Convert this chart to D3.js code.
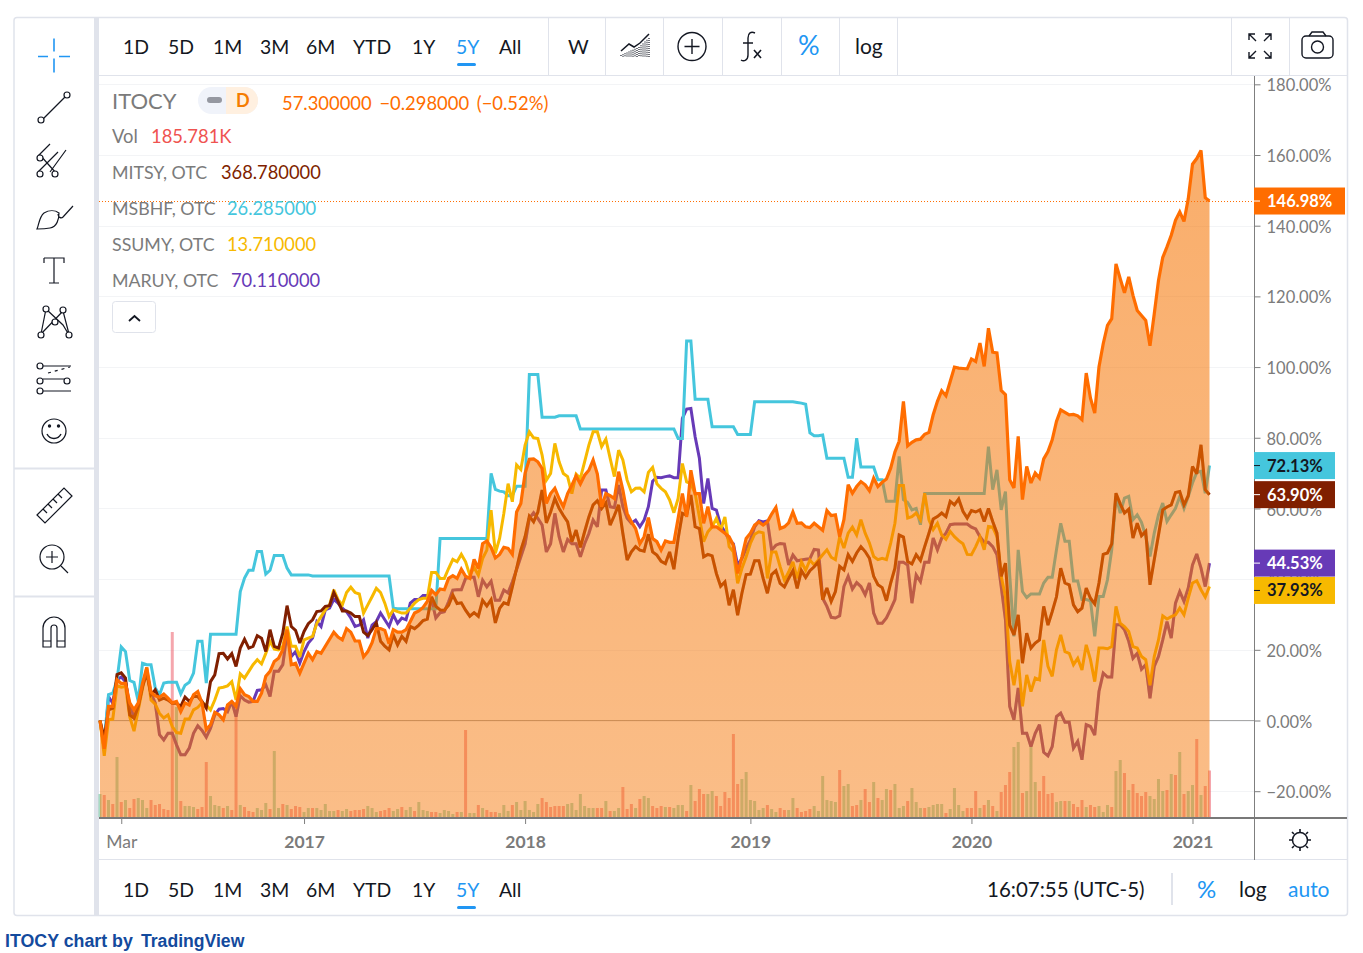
<html>

<head>
  <title>ITOCY chart by TradingView</title>
</head>
<style>
  body { margin: 0; background: #fff; }
  text { font-family: Lato, "Noto Sans", sans-serif; }
  text.caption { font-family: "Liberation Sans", Arial, sans-serif; font-weight: 700; }
</style>

<body>
  <div id="chart"></div>
</body>
<script src="https://d3js.org/d3.v7.min.js"></script>
<script>

  // weekly % change from the first week, 262 weeks
  const itocy = [0,-8,4,4,11.5,10.5,10.5,5,3,5,10.5,15,8,7,6.6,7.5,6.3,5,5.4,2.5,5,4.4,7.3,8.2,5,-2.6,-1.2,2.3,1.6,0.2,4.4,5.4,4,9,7.3,6.8,5.4,5.4,7.7,12.5,13.9,16.7,17.6,20,25.7,15.8,16.2,13.4,16.2,19,17.2,19.5,19,21,23,25,23.6,22.8,26,25,22.5,22.5,18,19.5,22,26,26,25.5,21.7,25.7,25,25,25.7,28,30.4,31,32,33.7,36.8,35.6,37.2,37,40.2,41,40.2,42.8,40.8,40.2,45.6,43,50,50.8,49,46,47,49,48.7,47,59,61.4,70,73.9,74,73.2,71.3,61.4,64.2,65.7,62.8,60.5,64.2,66.6,69.2,66.9,69.4,70.8,73.7,69.7,60.5,64.2,63.6,62.8,70.4,65.2,58.6,56.2,54.3,50,52,57.4,51.5,50.6,48.2,50.8,50.4,50.4,57.2,64.2,57.6,70.8,64.2,64.2,55.8,60.5,54.8,54.8,53.9,53,52,49.6,41.6,46.3,51.5,53,55.3,56.2,55.3,56.2,58.4,60.3,54.3,54.8,55.9,59,55.8,55.9,54.8,54.6,55.8,54.8,53.8,59.4,58,58.2,52,56.8,66.7,64.3,66.2,67.6,66.7,65,68.6,66.2,67.4,68.3,71.4,76,79,90.3,77.7,78.7,79.4,79.6,81,81.5,86.5,90.3,93.3,91.9,95.9,100,99.7,99.6,99.5,102.3,101.6,106.8,100.2,111,104.2,104,93.4,92.2,68.1,65.8,80.4,62.5,71.9,67.2,70,68.6,74,76.1,79.4,84.6,87.9,87.2,86.5,86.6,86.2,85.1,98.3,91.2,87,100,106.6,111.8,113.7,129.2,125,121,125.5,120.3,116,114.6,113.2,106,115,124.5,131,134,137.3,141.5,143.9,141.2,147.6,157.4,159,161.3,147.9,146.98]

  const mitsy = [0,-5,3,3.5,13,13.5,12,1.6,0.7,4,9.6,13.4,7.3,8.7,5.8,6.3,5.8,4.9,4.9,4,6.6,5.4,6.8,6.8,5.4,3.5,11,12.9,18.9,19,17.4,18.9,15.3,20.5,23,20.5,21,24,23.3,19.5,25.7,21,20.5,24.7,32.5,26.6,25.5,21.9,25.2,27.4,28.5,30.8,31,32.3,32.5,36.2,33.7,31,31,30.4,29.4,29.4,25,24,25.7,27.7,22.4,21,20,24.2,21.4,23.8,22.4,26.6,26,27,28.3,28.7,35,32.3,31.3,31.2,32.6,35.5,33.1,33.3,31.2,29.5,30.5,29.5,34,32.4,34.2,27.6,31.7,33.3,32.9,37.8,43,48.2,52,57.8,56.2,59,65.2,55.9,59,62.8,60,58,56.2,50.6,53.9,49,53.4,57.6,61,62.2,60,61.6,55.3,58,61,52.9,45.4,47.7,49.2,48.2,47.9,52.7,47.7,46.8,45,44.4,47.7,42.8,51.5,58.6,58.1,63.8,54.8,54.3,46.3,47,46.6,41.6,38,39.2,32.6,37,29.8,36,41.3,41.4,45.2,45.2,40.2,36,41.3,42.4,38.8,37.8,40.2,42.4,37.4,42.4,40.5,42.4,43.5,44.9,34.2,37.5,33.7,36.5,43.6,42.6,46.9,45,47.4,49.2,47.8,45.9,40.8,38.4,37.6,33.9,38.9,43.1,52.5,51.9,45,44.3,46.9,45.3,49.2,53,57,57.7,58.7,57.7,62,61,62.7,59.2,57.3,59.4,59,59.6,56.3,60,56.3,53,40.8,44.5,27,24.2,29.9,16.2,24.7,20.5,21.9,22.8,32.3,27,30.8,35,43.1,38.9,38.4,32.7,30.8,31.8,37.5,34.6,33,38.9,47,47.4,50,64.3,61.3,58.7,59.8,51.6,55.8,52.3,53.5,38.4,45.5,52.5,59.6,60.4,61,64.5,64.8,61,63.6,71.9,69.8,78,65.3,63.9]

  const msbhf = [0,-6,7.3,7.7,11.5,20.8,19.5,11.3,10.8,5.4,16.2,15.8,15.8,9.2,7.3,10.6,10.8,10.8,10.8,7.5,10,10.8,13.4,22.4,22.4,10.6,24.4,24.4,24.4,24.4,24.4,24.4,24.4,36.5,40.3,42.5,42.5,47.8,47.8,41.4,42.5,46.7,46.7,46.7,43.1,41.2,41.2,41.2,41.2,41.2,40.9,40.9,40.9,40.9,40.9,40.9,40.9,40.9,40.9,40.9,40.9,40.9,40.9,40.9,40.9,40.9,40.9,40.9,40.9,31.8,31.6,31.6,31.6,31.6,31.6,31.6,31.6,31.6,31.6,31.6,51.5,51.5,51.5,51.5,51.5,51.5,51.5,51.5,51.5,51.5,51.5,51.5,69.9,65.4,64.9,64.7,63.6,63.6,66.3,66.3,66.3,97.9,97.9,97.9,85.8,85.8,85.8,85.8,86.2,86.2,86.2,86.2,86.2,82.5,82.5,82.5,82.5,82.5,82.5,82.5,82.5,82.5,82.5,82.5,82.5,82.5,82.5,82.5,82.5,82.5,82.5,82.5,82.5,82.5,82.5,82.5,79.8,79.8,107.4,107.4,90.9,90.9,90.9,90.9,83.1,83.1,83.1,83.1,83.1,83.1,80.9,80.9,80.9,80.9,90.2,90.2,90.2,90.2,90.2,90.2,90.2,90.2,90.2,90.2,90,89.8,89.5,81.4,80.6,80.6,80.8,74.2,74.2,74.2,74.2,74.2,68.8,68.8,79.9,71.7,71.7,71.7,71.7,68.1,68.1,62,62,62,74.7,62.5,61.7,59.6,60,55.4,64.2,64.2,64.2,64.2,64.2,64.2,64.2,64.2,64.2,64.2,64.2,64.2,64.2,64.2,64.2,77.5,65.3,70.9,59.6,64.8,41.2,23.8,48.3,36.5,34.8,35.8,35.8,35.8,38.9,40.5,40.5,48.3,55.8,50.7,50.7,39.5,39.5,34.2,34.2,33.9,23.8,35.1,35.1,39.8,48.3,63.4,58.7,62.9,63.4,56.8,58.2,56.1,52.1,46.4,53,58.2,61.5,56.3,58.2,60,63.4,60,63.4,67.2,70.2,70.5,64.3,72.13]

  const ssumy = [0,-10,0.2,0.4,9.8,9.4,9.6,1,-3,3,9,15,5.8,4.6,2,0.7,1.6,-1.7,-3.4,-3.6,0.4,0.4,3,3.7,5,4.4,3,5.8,9.2,9.4,9.8,11,5.8,13.2,12,13.9,15.8,17.2,16,19,22.4,20.2,20,21,26.6,21,21,18,22.8,23.3,23.8,27.5,29.4,31.3,32.7,37,34.2,32.7,36.2,37.7,36.2,35.8,30.4,32.7,35,37.4,36.2,33.2,29.4,31.3,30.8,30.4,30.4,31.8,33.2,34.2,34.6,34.6,41.9,41.9,40.2,40.2,43,45.6,44.9,47,44.9,41.1,43.3,41.1,45.8,48.2,59.5,47.3,51.5,58.6,67,61.9,72.3,71,77.9,81.7,80,79.8,75.1,68,69.9,78.4,73.2,69.9,69,64.2,69.7,68.5,73.2,77.9,81.7,81.7,77.5,79.6,74.2,69,76.5,73.7,68,64.7,65.7,65.8,64.7,70.2,71.6,67,65.7,64.7,62.4,58.8,62.8,72.7,67.5,67,64.2,57.6,50.6,53.4,54.8,57.2,53.9,57.6,49.2,47.7,38.8,43,46.3,50.1,52.7,53.4,53.1,40.2,47.7,47.7,43.5,39.7,42,44.9,40.2,44.9,42.5,45.4,44,45.4,46.9,48.3,46.2,45.5,52,48.8,53,54.7,52.5,56.8,53,50.2,46.4,45.5,45.9,45.5,50.2,55.8,66.5,66.5,57.3,57.7,58.7,56.8,64.3,56.8,54,55.8,52.5,51.3,53.5,52,50.9,50,47,46.9,49.2,51.9,48.3,54.9,54.7,52,40.8,35,16.7,10,17.2,4,12.9,8.2,12,11.5,22.8,15.3,12.5,20,24.2,19.5,19,15.8,17.6,14.3,21.4,17.2,11,20.5,20.5,20.3,20.9,32.3,27.5,26.6,25.2,20.9,20.5,18.1,17.2,10,18.1,22.8,29.6,28.7,29.4,29.9,31.8,29.9,34.6,38.9,39.5,37,34.9,37.93]

  const maruy = [0,-8,6.8,4.9,11.5,12.3,11,4,1.1,3.5,10.6,13.9,7.7,4.9,-4,-5.5,-3.6,-3.6,-6.9,-9.7,-9.7,-7.8,-3.6,-1.5,-2.8,-4.7,-2.2,1.6,3.2,3.4,2.5,5.4,1.1,7,5.8,5.2,5.4,8.5,8.7,10.1,6.8,13.9,13.9,15.8,24.7,18.1,19.5,16.2,19.5,21.9,23.3,28,26.6,31.3,31.8,34.3,33.2,31.8,30.8,29,26.6,27,28.5,23.3,27,28,30.4,28.5,26.6,29.9,27.5,29,28.5,33.2,34.2,34.2,35.4,35.4,34.2,29,30.5,30.8,33.6,36.9,37,37,40.2,40.5,40.5,35,39.7,37.8,39.4,34,34,36.9,36.1,39.2,42.7,46.3,50,57.2,58.8,57.2,55.3,47.7,50,58.6,52,47.7,51.2,50,50,46.3,50,52.9,56.7,54.8,65.2,65.2,60.5,60.2,66.6,60.5,57.2,55.8,56.7,54.8,56.7,60.5,67.7,68.8,68.7,69,69.2,68.7,68.7,85.5,88.1,88.3,80.3,74.2,61.4,68.5,60,59.5,55.3,53.4,51,50,44,45.8,48.7,51,54.8,56.5,56.2,56.5,48.2,49.6,50.1,49.9,44,46.8,45.2,45.4,45.6,45.8,48.4,48.2,34.6,32.3,29.2,29,29.6,37.9,40.8,37.2,39,37.9,35.6,38.9,30.4,27.5,27.5,29,31.5,34.2,44.8,44.8,44,33.2,41.2,39.3,44.8,44.8,51.6,48.3,51.6,53,55.4,55.6,55.6,55.6,55.6,54.7,54.2,52,50.4,50.4,49.2,46.9,37.9,28.5,4,0.2,9.2,-3.6,-3.6,-7.4,-3.6,-1.2,-9,-10,-7.4,1.1,2.1,-0.5,-0.5,-7.8,-5.9,-11.1,-1.2,-1.7,-4.1,8.2,13.4,12.3,12.3,27.1,27.1,25.7,22.4,17.6,19,14.5,15.8,6.3,15.3,18.1,22.8,28,23.3,33.2,36.5,33.7,37.5,44,47.1,43.1,37.9,44.53]

  // volume in thousands, and whether the week closed up (1) or down (0)
  const volume = [92,88,68,52,240,60,68,36,72,76,68,36,68,48,52,32,28,740,440,64,44,44,40,32,40,220,84,48,44,36,44,28,460,48,40,24,20,36,28,56,32,264,36,52,48,32,44,40,20,36,36,36,28,52,24,24,28,24,32,24,28,28,32,44,36,20,24,28,36,24,32,40,28,40,24,60,28,24,20,20,16,28,24,12,20,20,348,16,16,48,36,28,20,20,16,48,24,48,60,28,64,28,20,52,76,60,40,44,44,44,52,56,28,92,44,36,36,36,36,64,24,24,36,120,32,52,36,72,84,76,44,36,44,40,40,36,48,48,24,128,64,112,92,92,104,84,44,100,76,332,132,152,180,68,64,28,36,48,32,20,36,28,28,76,36,20,24,32,44,24,164,68,64,60,188,124,132,44,48,68,112,60,140,76,68,112,108,132,36,44,64,116,60,36,36,40,48,52,52,16,32,116,48,24,36,36,104,36,48,68,44,24,100,128,180,280,300,96,104,288,140,104,164,92,96,60,64,64,64,52,40,68,40,48,40,44,20,48,40,184,228,176,108,132,96,84,100,84,72,152,104,108,172,168,260,92,104,128,312,88,124,186]
  const volumeUp = [1,0,1,0,1,0,1,0,0,1,1,1,0,0,0,0,0,0,1,0,1,1,1,0,0,0,1,1,1,0,1,0,0,1,0,0,0,1,1,1,0,1,1,0,1,0,0,0,1,1,0,1,1,1,1,1,0,1,1,0,0,0,0,1,1,1,0,0,0,1,1,0,1,1,0,1,1,1,0,0,1,1,1,1,0,1,0,1,1,0,1,0,0,0,1,1,1,0,1,1,1,1,1,1,0,0,0,0,0,0,1,1,1,1,1,1,1,0,0,1,0,1,1,0,0,0,1,0,1,1,0,0,0,1,0,1,1,1,0,1,0,0,0,1,1,0,0,0,0,0,0,1,1,1,1,1,1,0,1,1,0,0,1,1,0,0,0,0,1,1,1,1,1,1,0,1,1,0,0,1,0,0,1,0,1,1,0,1,1,1,0,1,1,1,0,1,1,1,1,0,1,1,1,1,0,0,0,1,0,1,0,1,0,0,0,1,1,0,1,1,1,0,0,0,0,1,1,0,1,0,0,0,1,0,0,1,1,1,0,1,1,0,1,0,0,0,0,1,1,1,1,0,1,0,1,0,1,1,0,1,0,0]

  const priceTicks = [-20, 0, 20, 40, 60, 80, 100, 120, 140, 160, 180]
  const timeTicks = [[5, "Mar"], [48, "2017"], [100, "2018"], [153, "2019"], [205, "2020"], [257, "2021"]]
  const ranges = [["1D", 123], ["5D", 168], ["1M", 213], ["3M", 260], ["6M", 306], ["YTD", 353], ["1Y", 412], ["5Y", 456], ["All", 499]]

  const width = 1363
  const height = 953
  const border = "#e0e3eb"
  const ink = "#131722"
  const blue = "#2196f3"
  const gray = "#7b7b7b"
  const orange = "#ff6d00"

  let x = d3.scaleLinear().domain([0, 261]).range([100, 1209.5])
  let y = d3.scaleLinear().domain([0, 160]).range([720.5, 155])
  let volH = d3.scaleLinear().domain([0, 744]).range([0, 186])
  const bottom = 817

  let svg = d3.select("#chart")
    .append("svg")
    .attr("width", width)
    .attr("height", height)

  let line = d3.line().x((d, i) => x(i)).y(d => y(d))
  let area = d3.area().x((d, i) => x(i)).y0(bottom).y1(d => y(d))

  let defs = svg.append("defs")
  let grad = defs.append("linearGradient")
    .attr("id", "fill")
    .attr("gradientUnits", "userSpaceOnUse")
    .attr("x1", 0).attr("x2", 0).attr("y1", 150).attr("y2", bottom)
  grad.append("stop").attr("offset", 0).attr("stop-color", "#f57300").attr("stop-opacity", 0.58)
  grad.append("stop").attr("offset", 1).attr("stop-color", "#f57300").attr("stop-opacity", 0.47)
  defs.append("clipPath").attr("id", "underFill").append("path").datum(itocy).attr("d", area)

  // frame
  svg.append("rect").attr("x", 14).attr("y", 17.5).attr("width", 1333.5).attr("height", 898)
    .attr("rx", 3).attr("fill", "#fff").attr("stroke", border).attr("stroke-width", 1.5)
  svg.append("rect").attr("x", 94).attr("y", 18).attr("width", 5).attr("height", 897).attr("fill", border)
  hline(99, 1347, 75.5, border)
  hline(99, 1347, 859.5, border)
  hline(14, 94, 468.5, border, 2)
  hline(14, 94, 596.5, border, 2)
  ;[548, 605, 663, 722, 781, 839, 897, 1231, 1289].forEach(d => vline(d + 0.5, 18, 75, border))

  function hline(x1, x2, yy, color, w) {
    return svg.append("line").attr("x1", x1).attr("x2", x2).attr("y1", yy).attr("y2", yy)
      .attr("stroke", color).attr("stroke-width", w || 1)
  }
  function vline(xx, y1, y2, color, w) {
    return svg.append("line").attr("x1", xx).attr("x2", xx).attr("y1", y1).attr("y2", y2)
      .attr("stroke", color).attr("stroke-width", w || 1)
  }
  function label(txt, xx, yy, size, color, extra) {
    let t = svg.append("text").attr("x", xx).attr("y", yy).attr("font-size", size).attr("fill", color).text(txt)
    if (extra) Object.keys(extra).forEach(k => t.attr(k, extra[k]))
    return t
  }

  // grid
  priceTicks.forEach(d => {
    hline(99, 1254, Math.round(y(d)) + 0.5, "#f3f4f6")
  })
  hline(99, 1254, y(0), "#a8a8a8")

  // volume
  svg.append("g").selectAll("rect")
    .data(volume)
    .enter().append("rect")
    .attr("x", (d, i) => x(i) - 1.5)
    .attr("width", 3)
    .attr("y", d => bottom - volH(d))
    .attr("height", d => volH(d))
    .attr("fill", (d, i) => volumeUp[i] ? "rgba(83,185,135,.5)" : "rgba(235,77,92,.5)")

  function drawLine(values, color, w) {
    return svg.append("path").datum(values)
      .attr("d", line)
      .attr("fill", "none")
      .attr("stroke", color)
      .attr("stroke-width", w)
      .attr("stroke-linejoin", "miter")
      .attr("stroke-miterlimit", 3)
  }

  drawLine(maruy, "#673ab7", 3)
  drawLine(msbhf, "#45c6dd", 3)
  drawLine(ssumy, "#f7b900", 3)
  drawLine(mitsy, "#801f00", 3)

  svg.append("path").datum(itocy)
    .attr("d", area)
    .attr("fill", "url(#fill)")

  // the dark lines read lighter through the fill
  ;[maruy, mitsy].forEach(s => {
    drawLine(s, "#f57300", 3).attr("stroke-opacity", 0.22).attr("clip-path", "url(#underFill)")
  })
  drawLine(itocy, orange, 3.2)

  // last price dotted line
  hline(99, 1254, y(146.98) + 0.5, orange).attr("stroke-dasharray", "1 2")

  // axes
  vline(1254.5, 76, 860, "#7f7f7f")
  hline(99, 1347, 818, "#787878", 2)

  let yAxis = d3.axisRight(y).tickValues(priceTicks).tickSize(6).tickPadding(6)
    .tickFormat(d => (d < 0 ? "\u2212" : "") + Math.abs(d).toFixed(2) + "%")
  let gy = svg.append("g").attr("transform", "translate(1254.5,0)").call(yAxis)
  gy.select(".domain").remove()
  gy.selectAll("line").attr("stroke", "#7f7f7f")
  gy.selectAll("text").attr("font-size", 16.5).attr("fill", gray).attr("dy", "0.4em")

  let xAxis = d3.axisBottom(x).tickValues(timeTicks.map(d => d[0])).tickSize(6).tickPadding(12)
    .tickFormat(d => timeTicks.find(t => t[0] === d)[1])
  let gx = svg.append("g").attr("transform", "translate(0,818)").call(xAxis)
  gx.select(".domain").remove()
  gx.selectAll("line").attr("stroke", "#7f7f7f")
  gx.selectAll("text").attr("font-size", 17.5).attr("fill", gray)
    .attr("font-weight", d => d === 5 ? 400 : 700)

  // last value tags, the last one pushed down so it clears the tag above
  const tags = [
    [146.98, "146.98%", orange, "#fff", 91, 0],
    [72.13, "72.13%", "#45c6dd", ink, 81, 0],
    [63.9, "63.90%", "#801f00", "#fff", 81, 0],
    [44.53, "44.53%", "#673ab7", "#fff", 81, 0],
    [37.93, "37.93%", "#f7b900", ink, 81, 4]
  ]
  tags.forEach(t => {
    let yy = y(t[0]) + t[5]
    svg.append("rect").attr("x", 1254).attr("y", yy - 13.5).attr("width", t[4]).attr("height", 27).attr("fill", t[2])
    hline(1254, 1260, yy, t[3])
    label(t[1], 1267, yy + 6, 16.5, t[3], { "font-weight": 700 })
  })

  // legend
  label("ITOCY", 112, 109, 22, gray)
  svg.append("rect").attr("x", 198).attr("y", 87).attr("width", 60).attr("height", 27).attr("rx", 13.5).attr("fill", "#f0f3fa")
  svg.append("path").attr("d", "M226 87h18.5a13.5 13.5 0 0 1 0 27H226z").attr("fill", "#fff0e0")
  svg.append("rect").attr("x", 207).attr("y", 97).attr("width", 15).attr("height", 6).attr("rx", 3).attr("fill", "#9598a1")
  label("D", 236, 107, 18, "#f57c00", { "font-weight": 700 })
  label("57.300000 \u22120.298000 (\u22120.52%)", 282, 110, 18.4, orange, { "word-spacing": 3 })
  label("Vol", 112, 143, 18.4, gray)
  label("185.781K", 151, 143, 18.4, "#ef5350")

  const legendRows = [
    ["MITSY, OTC", "368.780000", "#801f00", 179, 221],
    ["MSBHF, OTC", "26.285000", "#45c6dd", 215, 227],
    ["SSUMY, OTC", "13.710000", "#f7b900", 251, 227],
    ["MARUY, OTC", "70.110000", "#673ab7", 287, 231]
  ]
  legendRows.forEach(r => {
    label(r[0], 112, r[3], 17.8, gray)
    label(r[1], r[4], r[3], 18.3, r[2])
  })

  svg.append("rect").attr("x", 112.5).attr("y", 301.5).attr("width", 43).attr("height", 31).attr("rx", 3)
    .attr("fill", "#fff").attr("stroke", border)
  icon("M129 321l5.5-5 5.5 5", 0, 0, 1.8)

  // range buttons
  function rangeRow(yy) {
    ranges.forEach(r => {
      label(r[0], r[1], yy, 19.4, r[0] === "5Y" ? blue : ink)
    })
    svg.append("rect").attr("x", 457).attr("y", yy + 9).attr("width", 19).attr("height", 3).attr("rx", 1.5).attr("fill", blue)
  }
  rangeRow(54)
  rangeRow(897)

  label("W", 568, 54, 20, ink)
  label("%", 798, 55, 27, blue)
  label("log", 855, 54, 21, ink)
  label("16:07:55 (UTC-5)", 987, 897, 20.5, ink)
  vline(1172, 873, 905, border, 2)
  label("%", 1197, 898, 24, blue)
  label("log", 1239, 897, 21, ink)
  label("auto", 1288, 897, 21, blue)
  label("ITOCY chart by", 5, 947, 17.8, "#134a9d", { "class": "caption" })
  label("TradingView", 141, 947, 17.6, "#134a9d", { "class": "caption" })

  // toolbar icons
  function icon(d, tx, ty, w, color) {
    return svg.append("path").attr("d", d)
      .attr("transform", "translate(" + tx + "," + ty + ")")
      .attr("fill", "none")
      .attr("stroke", color || ink)
      .attr("stroke-width", w || 1.2)
  }
  function ring(cx, cy, r) {
    return svg.append("circle").attr("cx", cx).attr("cy", cy).attr("r", r)
      .attr("fill", "#fff").attr("stroke", ink).attr("stroke-width", 1.2)
  }

  icon("M51 37v13M51 57v14M35 55h10M56 55h11", 3, 1.5, 1.6, blue)
  icon("M42 120L66 96", 0, 0)
  ring(41, 120, 3); ring(67, 95, 3)
  icon("M38 156l12-12M38 172l20-20M50 172l16-22M40 155l16 18", 0, 0)
  ring(40, 158, 3); ring(40, 174, 3); ring(55, 174, 3)
  icon("M37 229c2-4 2-12 7-16 5-3 11-3 15 0 0 6-2 14-9 15-5 1-9 1-13 1zM58 214c0 3 3 5 5 3l10-11", 0, 0)
  icon("M44 258h20v5M54 258v25M49 283h10M44 258v5", 0, 0)
  icon("M41 334l5-25 17 16 6 10M41 334l22-23 6 23M46 309l17 16", 0, 0)
  ring(41, 335, 3); ring(46, 309, 3); ring(63, 310, 3); ring(69, 335, 3); ring(55, 322, 3)
  icon("M43 366h28M43 379h23M43 391h28", 0, 0)
  icon("M48 373l22-6", 0, 0).attr("stroke-dasharray", "3 4")
  ring(40, 366, 3); ring(40, 381, 3); ring(40, 391, 3); ring(67, 381, 3)
  ring(54, 431, 12)
  icon("M47 434c3 6 11 6 14 0", 0, 0, 1.4)
  svg.selectAll(null).data([49.5, 58.5]).enter().append("circle")
    .attr("cx", d => d).attr("cy", 426).attr("r", 1.7).attr("fill", ink)
  icon("M37 515l27-27 8 8-27 27zM43 509l4 4M48 504l4 4M53 499l4 4M58 494l4 4", 0, 0)
  ring(52, 557, 12)
  icon("M52 551v12M46 557h12M61 566l7 7", 0, 0)
  icon("M43 646v-19a11 11 0 0 1 22 0v19h-8v-19a3 3 0 0 0-6 0v19zM43 640h8M57 640h8", 0, 1)

  // style, add, fx, fullscreen, camera
  icon("M621 51l8-7 5 3 6-4 9-9", 0, 0, 1.5)
  svg.selectAll(null).data(d3.range(15)).enter().append("line")
    .attr("x1", d => 621 + d * 2).attr("x2", d => 621 + d * 2)
    .attr("y1", d => 56 - Math.min(d + 1, 10) * 0.9 - Math.max(d - 9, 0) * 1.8).attr("y2", 57)
    .attr("stroke", ink).attr("stroke-width", 1.2).attr("stroke-dasharray", "1 1")
  svg.append("circle").attr("cx", 692).attr("cy", 46.5).attr("r", 14).attr("fill", "none").attr("stroke", ink).attr("stroke-width", 1.4)
  icon("M692 39v15M684.5 46.5h15", 0, 0, 1.4)
  icon("M757 33c-4-2-7 0-7 5v17c0 5-4 7-7 5M745 43h10", -2, 0, 1.4)
  icon("M754 50l7 8M761 50l-7 8", 0, 0, 1.6)
  icon("M1249 40v-6h6M1249 34l7 7M1271 40v-6h-6M1271 34l-7 7M1249 52v6h6M1249 58l7-7M1271 52v6h-6M1271 58l-7-7", 0, 0, 1.4)
  svg.append("rect").attr("x", 1302).attr("y", 36).attr("width", 31).attr("height", 22).attr("rx", 4)
    .attr("fill", "none").attr("stroke", ink).attr("stroke-width", 1.4)
  icon("M1309 36l3-4h11l3 4", 0, 0, 1.4)
  svg.append("circle").attr("cx", 1317.5).attr("cy", 47).attr("r", 6).attr("fill", "none").attr("stroke", ink).attr("stroke-width", 1.4)
  svg.append("circle").attr("cx", 1300).attr("cy", 840).attr("r", 7.5).attr("fill", "none").attr("stroke", ink).attr("stroke-width", 1.5)
  icon("M1300 829v3M1300 848v3M1289 840h3M1308 840h3M1292 832l2 2M1306 846l2 2M1308 832l-2 2M1294 846l-2 2", 0, 0, 1.6)

</script>

</html>
